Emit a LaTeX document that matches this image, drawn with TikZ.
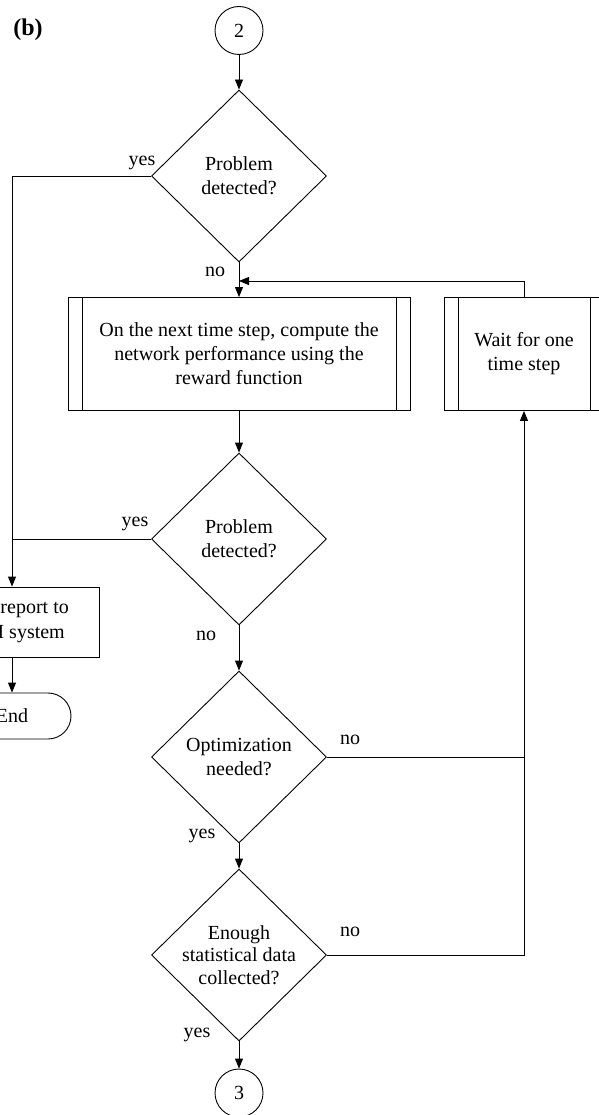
\documentclass[tikz,border=0pt]{standalone}
\usepackage{fontspec}
\setmainfont{Liberation Serif}
\usetikzlibrary{arrows.meta,shapes.geometric,shapes.misc}
\begin{document}
\begin{tikzpicture}[x=1pt,y=-1pt,
  font=\fontsize{20}{24}\selectfont,
  line/.style={draw, line width=0.9pt},
  arr/.style={line, -{Triangle[length=10pt,width=8pt]}},
  conn/.style={draw, circle, minimum size=48pt, inner sep=0pt, line width=0.9pt},
  dec/.style={draw, diamond, minimum width=175pt, minimum height=172pt, inner sep=0pt, line width=0.9pt},
  sub/.style={draw, rectangle, line width=0.9pt, inner sep=0pt, align=center,
    path picture={\draw[line width=0.9pt]
      ([xshift=14pt]path picture bounding box.north west) -- ([xshift=14pt]path picture bounding box.south west)
      ([xshift=-14pt]path picture bounding box.north east) -- ([xshift=-14pt]path picture bounding box.south east);}},
  box/.style={draw, rectangle, line width=0.9pt, inner sep=0pt},
  term/.style={draw, rounded rectangle, line width=0.9pt, inner sep=0pt},
  lab/.style={inner sep=0pt}]
\useasboundingbox (0,0) rectangle (598,1115);
\node[lab, font=\fontsize{24}{28}\selectfont\bfseries] (title) at (28,30) {(b)};
\node[conn] (c2) at (239,30.5) {2};
\node[dec, label={[align=center]center:Problem\\detected?}] (d1) at (239,176) {};
\node[sub, minimum width=342pt, minimum height=113pt] (comp) at (239,354) {On the next time step, compute the\\network performance using the\\reward function};
\node[sub, minimum width=160pt, minimum height=113pt] (wait) at (524,354) {Wait for one\\time step};
\node[dec, label={[align=center]center:Problem\\detected?}] (d2) at (239,539) {};
\node[box, minimum width=174pt, minimum height=70pt] (rep) at (12,622) {};
\node[lab, anchor=east] (rep1) at (69,610) {report to};
\node[lab, anchor=east] (rep2) at (65,634) {I system};
\node[term, minimum width=118pt, minimum height=46pt] (end) at (12,716) {End};
\node[dec, label={[align=center]center:Optimization\\needed?}] (d3) at (239,757) {};
\node[dec, label={[align=center, font=\fontsize{20}{22.5}\selectfont]center:Enough\\statistical data\\collected?}] (d4) at (239,955) {};
\node[conn] (c3) at (239,1093) {3};
\coordinate (fb) at (239,281);
% labels
\node[lab] (y1) at (142,163) {yes};
\node[lab] (n1) at (215,272) {no};
\node[lab] (y2) at (135,524) {yes};
\node[lab] (n2) at (206,636) {no};
\node[lab] (n3) at (350,740) {no};
\node[lab] (y3) at (202,836) {yes};
\node[lab] (n4) at (350,932) {no};
\node[lab] (y4) at (197,1035) {yes};
% connectors
\draw[arr] (c2) -- (d1.north);
\draw[arr] (d1.south) -- (comp.north);
\draw[arr] (comp.south) -- (d2.north);
\draw[arr] (d2.south) -- (d3.north);
\draw[arr] (d3.south) -- (d4.north);
\draw[arr] (d4.south) -- (c3.north);
\draw[arr] (d1.west) -| (rep.north);
\draw[line] (d2.west) -- (d2.west -| rep.north);
\draw[arr] (rep.south) -- (end.north);
\draw[arr] (wait.north) |- (fb);
\draw[arr] (d4.east) -| (wait.south);
\draw[line] (d3.east) -- (d3.east -| wait.south);
\end{tikzpicture}
\end{document}
